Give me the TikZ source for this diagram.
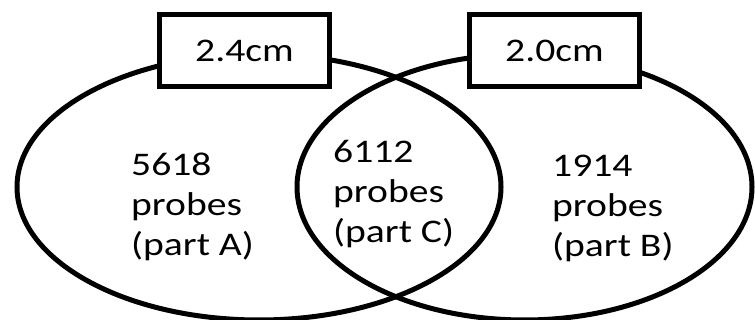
\documentclass[tikz,border=0pt]{standalone}
\usepackage{fontspec}
\setmainfont{Carlito}[FakeStretch=1.2]
\usetikzlibrary{shapes.geometric}
\tikzset{
  venn/.style={draw=black, line width=5pt, ellipse, inner sep=0pt, minimum width=#1, minimum height=266pt},
  sizebox/.style={draw=black, fill=white, line width=5pt, rectangle, inner sep=0pt, minimum width=170pt, minimum height=72pt, font=\fontsize{33pt}{40pt}\selectfont},
  count/.style={anchor=north west, inner sep=0pt, align=left, font=\fontsize{33pt}{40pt}\selectfont}
}
\begin{document}
\begin{tikzpicture}[x=1pt,y=-1pt]
\useasboundingbox (0,0) rectangle (755,320);
\node[venn=484pt] (A) at (259,187) {};
\node[venn=455pt] (B) at (524.5,187) {};
\node[sizebox] (boxA) at (244.5,51) {2.4cm};
\node[sizebox] (boxB) at (554.5,50.5) {2.0cm};
\node[count] (tA) at (131,153) {5618\\probes\\(part A)};
\node[count] (tC) at (333,140) {6112\\probes\\(part C)};
\node[count] (tB) at (552,155) {1914\\probes\\(part B)};
\end{tikzpicture}
\end{document}
